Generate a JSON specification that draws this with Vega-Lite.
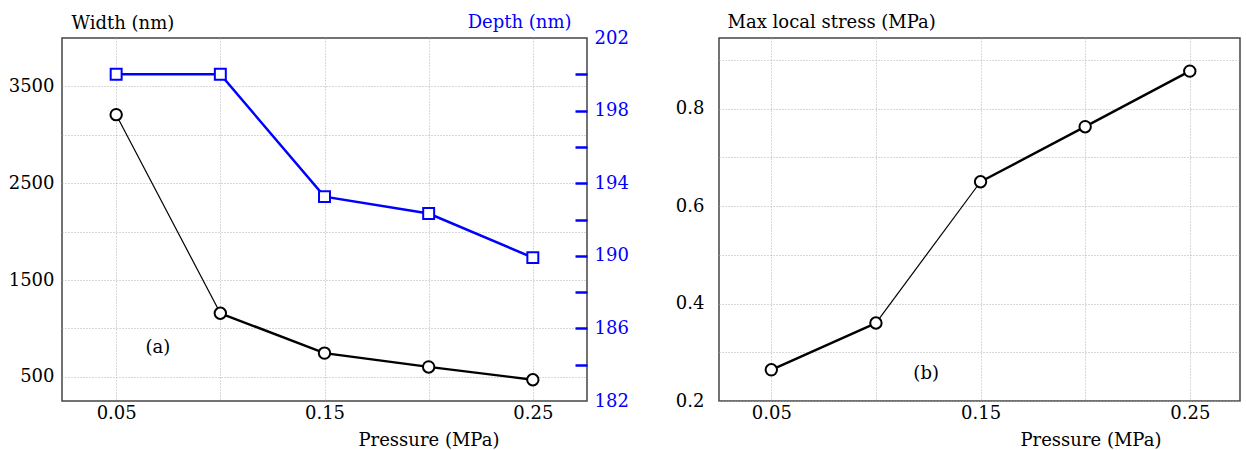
{
  "$schema": "https://vega.github.io/schema/vega-lite/v6.json",
  "background": "white",
  "padding": {"left": 7, "top": 12, "right": 8, "bottom": 0},
  "spacing": 44,
  "config": {
    "font": "DejaVu Serif",
    "view": {"stroke": "#444444", "strokeWidth": 1.5},
    "axis": {
      "labelFont": "DejaVu Serif", "titleFont": "DejaVu Serif",
      "labelFontSize": 18, "titleFontSize": 18, "titleFontWeight": "normal",
      "labelColor": "black", "titleColor": "black",
      "domain": false, "ticks": false, "tickSize": 0,
      "gridColor": "#b0b0b0", "gridDash": [1, 2], "gridWidth": 1
    },
    "text": {"font": "DejaVu Serif"}
  },
  "datasets": {
    "main": [
      {"Pressure": 0.05, "Width": 3208, "Depth": 200.0, "Stress": 0.264},
      {"Pressure": 0.10, "Width": 1156, "Depth": 200.0, "Stress": 0.36},
      {"Pressure": 0.15, "Width": 745, "Depth": 193.26, "Stress": 0.65},
      {"Pressure": 0.20, "Width": 602, "Depth": 192.33, "Stress": 0.763},
      {"Pressure": 0.25, "Width": 470, "Depth": 189.9, "Stress": 0.877}
    ],
    "noteA": [{"Pressure": 0.07, "Width": 800, "text": "(a)"}],
    "noteB": [{"Pressure": 0.124, "Stress": 0.255, "text": "(b)"}]
  },
  "hconcat": [
    {
      "width": 525,
      "height": 363,
      "encoding": {
        "x": {
          "field": "Pressure", "type": "quantitative",
          "scale": {"domain": [0.024, 0.276], "nice": false, "zero": false},
          "axis": {
            "values": [0.05, 0.1, 0.15, 0.2, 0.25], "format": ".2f",
            "labelExpr": "(abs(datum.value-0.1)<0.001 || abs(datum.value-0.2)<0.001) ? '' : datum.label",
            "labelPadding": 3,
            "title": "Pressure (MPa)", "titleAnchor": "start", "titleAlign": "left",
            "titleX": 296, "titleY": 44, "titleBaseline": "alphabetic"
          }
        }
      },
      "layer": [
        {
          "encoding": {
            "y": {
              "field": "Width", "type": "quantitative",
              "scale": {"domain": [250, 4000], "nice": false, "zero": false},
              "axis": {
                "values": [500, 1000, 1500, 2000, 2500, 3000, 3500],
                "labelExpr": "(round(datum.value) % 1000 == 500) ? datum.label : ''",
                "format": "d", "labelPadding": 8,
                "title": "Width (nm)", "titleAngle": 0, "titleAlign": "left", "titleAnchor": "start",
                "titleX": 9, "titleY": -10, "titleBaseline": "alphabetic"
              }
            }
          },
          "layer": [
            {
              "data": {"name": "main"},
              "transform": [{"filter": "datum.Pressure <= 0.1"}],
              "mark": {"type": "line", "color": "black", "strokeWidth": 1.2}
            },
            {
              "data": {"name": "main"},
              "transform": [{"filter": "datum.Pressure >= 0.1"}],
              "mark": {"type": "line", "color": "black", "strokeWidth": 2.4}
            },
            {
              "data": {"name": "main"},
              "mark": {"type": "point", "shape": "circle", "filled": true, "fill": "white", "stroke": "black", "strokeWidth": 2, "size": 130, "opacity": 1}
            },
            {
              "data": {"name": "noteA"},
              "mark": {"type": "text", "font": "DejaVu Serif", "fontSize": 18, "baseline": "middle", "align": "center", "color": "black"},
              "encoding": {"text": {"field": "text"}}
            }
          ]
        },
        {
          "data": {"name": "main"},
          "encoding": {
            "y": {
              "field": "Depth", "type": "quantitative",
              "scale": {"domain": [182, 202], "nice": false, "zero": false},
              "axis": {
                "orient": "right",
                "values": [182, 184, 186, 188, 190, 192, 194, 196, 198, 200, 202],
                "labelExpr": "((round(datum.value) - 182) % 4 == 0) ? datum.label : ''",
                "format": "d", "grid": false,
                "ticks": true, "tickSize": -12, "tickWidth": 2.5,
                "tickColor": {"condition": {"test": "datum.value < 183 || datum.value > 201", "value": "transparent"}, "value": "#0000ff"},
                "labelPadding": 19, "labelColor": "#0000ff",
                "title": "Depth (nm)", "titleColor": "#0000ff", "titleAngle": 0, "titleAlign": "right", "titleAnchor": "start",
                "titleX": -16, "titleY": -11, "titleBaseline": "alphabetic"
              }
            }
          },
          "layer": [
            {"mark": {"type": "line", "color": "#0000ff", "strokeWidth": 2.5}},
            {"mark": {"type": "point", "shape": "square", "filled": true, "fill": "white", "stroke": "#0000ff", "strokeWidth": 2, "size": 120, "opacity": 1}}
          ]
        }
      ],
      "resolve": {"scale": {"y": "independent"}, "axis": {"y": "independent"}}
    },
    {
      "width": 521,
      "height": 363,
      "encoding": {
        "x": {
          "field": "Pressure", "type": "quantitative",
          "scale": {"domain": [0.025, 0.274], "nice": false, "zero": false},
          "axis": {
            "values": [0.05, 0.1, 0.15, 0.2, 0.25], "format": ".2f",
            "labelExpr": "(abs(datum.value-0.1)<0.001 || abs(datum.value-0.2)<0.001) ? '' : datum.label",
            "labelPadding": 3,
            "title": "Pressure (MPa)", "titleAnchor": "start", "titleAlign": "left",
            "titleX": 301, "titleY": 44, "titleBaseline": "alphabetic"
          }
        },
        "y": {
          "field": "Stress", "type": "quantitative",
          "scale": {"domain": [0.2, 0.945], "nice": false, "zero": false},
          "axis": {
            "values": [0.2, 0.3, 0.4, 0.5, 0.6, 0.7, 0.8, 0.9], "format": ".1f",
            "labelExpr": "(round(datum.value*10) % 2 == 0) ? datum.label : ''",
            "labelPadding": 15,
            "title": "Max local stress (MPa)", "titleAngle": 0, "titleAlign": "left", "titleAnchor": "start",
            "titleX": 8, "titleY": -11, "titleBaseline": "alphabetic"
          }
        }
      },
      "layer": [
        {
          "data": {"name": "main"},
          "transform": [{"filter": "datum.Pressure <= 0.1"}],
          "mark": {"type": "line", "color": "black", "strokeWidth": 2.4}
        },
        {
          "data": {"name": "main"},
          "transform": [{"filter": "datum.Pressure >= 0.1 && datum.Pressure <= 0.15"}],
          "mark": {"type": "line", "color": "black", "strokeWidth": 1.2}
        },
        {
          "data": {"name": "main"},
          "transform": [{"filter": "datum.Pressure >= 0.15"}],
          "mark": {"type": "line", "color": "black", "strokeWidth": 2.4}
        },
        {
          "data": {"name": "main"},
          "mark": {"type": "point", "shape": "circle", "filled": true, "fill": "white", "stroke": "black", "strokeWidth": 2, "size": 130, "opacity": 1}
        },
        {
          "data": {"name": "noteB"},
          "mark": {"type": "text", "font": "DejaVu Serif", "fontSize": 18, "baseline": "middle", "align": "center", "color": "black"},
          "encoding": {"text": {"field": "text"}}
        }
      ]
    }
  ]
}
